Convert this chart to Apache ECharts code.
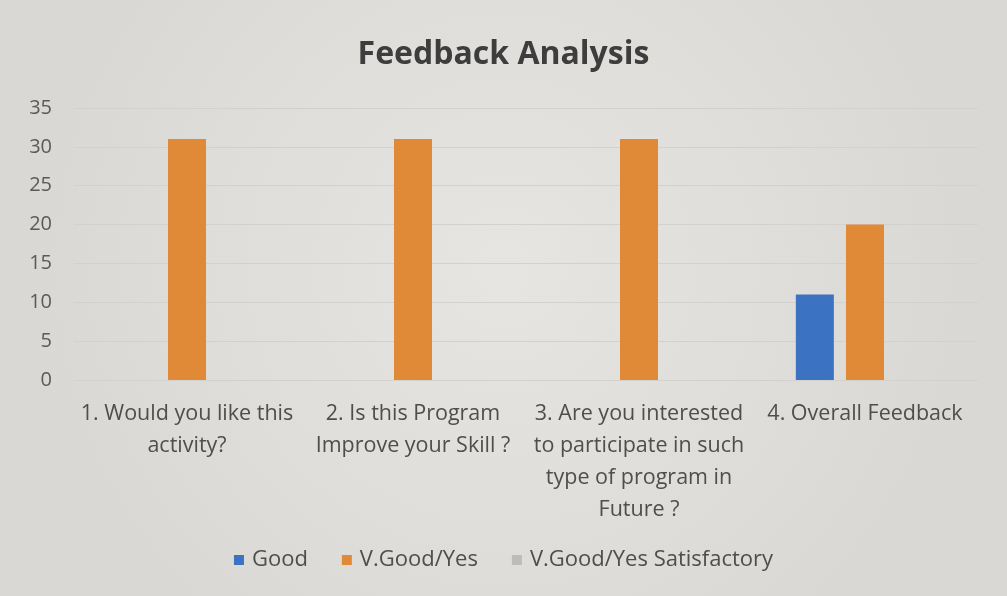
<!DOCTYPE html>
<html>
<head>
<meta charset="utf-8">
<script src="https://cdn.jsdelivr.net/npm/echarts@6/dist/echarts.min.js"></script>
<style>
  html, body { margin: 0; padding: 0; background: #e2e1de; }
  #chart { width: 1007px; height: 596px; }
</style>
</head>
<body>
<div id="chart"></div>
<script>
// Survey questions (x axis categories)
const categories = [
  '1. Would you like this\nactivity?',
  '2. Is this Program\nImprove your Skill ?',
  '3. Are you interested\nto participate in such\ntype of program in\nFuture ?',
  '4. Overall Feedback'
];
// Response counts per rating
const goodValues = [null, null, null, 11];
const vGoodYesValues = [31, 31, 31, 20];
const vGoodSatisfactoryValues = [null, null, null, null];

const seriesNames = ['Good', 'V.Good/Yes', 'V.Good/Yes Satisfactory'];
const yTicks = { min: 0, max: 35, interval: 5 };

const fontFamily = '"Open Sans", Lato, sans-serif';
const textColor = '#4e4e4e';

const chart = echarts.init(document.getElementById('chart'), null, { renderer: 'canvas' });
chart.setOption({
  backgroundColor: {
    type: 'radial', x: 0.5, y: 0.45, r: 0.8,
    colorStops: [
      { offset: 0, color: '#e6e5e2' },
      { offset: 1, color: '#d9d8d5' }
    ]
  },
  title: {
    text: 'Feedback Analysis',
    left: 'center',
    top: 34,
    textStyle: { fontFamily, fontSize: 32, fontWeight: 'bold', color: '#3d3d3d' }
  },
  legend: {
    bottom: 20,
    left: 'center',
    itemWidth: 10,
    itemHeight: 10,
    itemGap: 34,
    icon: 'rect',
    textStyle: { fontFamily, fontSize: 22, color: textColor, padding: [0, 0, 0, 3] },
    data: seriesNames
  },
  grid: { left: 74, right: 29, top: 108, bottom: 216 },
  xAxis: {
    type: 'category',
    data: categories,
    axisLine: { show: false },
    axisTick: { show: false },
    axisLabel: {
      interval: 0,
      margin: 18,
      fontFamily,
      fontSize: 21.5,
      lineHeight: 32,
      color: textColor
    }
  },
  yAxis: {
    type: 'value',
    min: yTicks.min,
    max: yTicks.max,
    interval: yTicks.interval,
    axisLine: { show: false },
    axisTick: { show: false },
    axisLabel: { fontFamily, fontSize: 20, color: '#5a5a5a', margin: 22 },
    splitLine: { lineStyle: { color: '#d2d1ce', width: 1 } }
  },
  series: [
    { name: seriesNames[0], type: 'bar', data: goodValues, barWidth: 38, barGap: '32%',
      itemStyle: { color: '#3c72c2' } },
    { name: seriesNames[1], type: 'bar', data: vGoodYesValues, barWidth: 38, barGap: '32%',
      itemStyle: { color: '#e08a38' } },
    { name: seriesNames[2], type: 'bar', data: vGoodSatisfactoryValues, barWidth: 38, barGap: '32%',
      itemStyle: { color: '#bdbcba' } }
  ]
});
</script>
</body>
</html>
